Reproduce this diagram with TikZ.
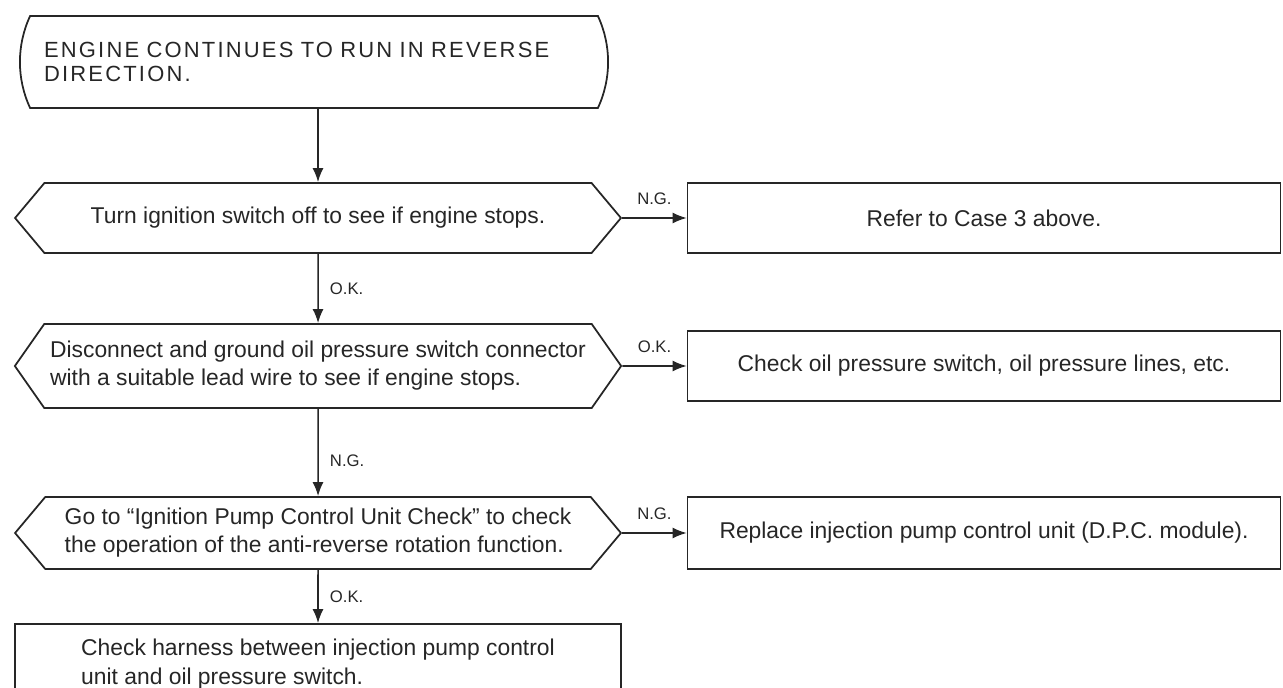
\documentclass[tikz,border=0pt]{standalone}
\usepackage{fontspec}
\setmainfont{Liberation Sans}
\newfontfamily\capsfont[LetterSpace=10]{Liberation Sans}
\usetikzlibrary{arrows.meta,shapes.symbols,shapes.misc}
\tikzset{
  startbox/.style = {draw, rounded rectangle, rounded rectangle arc length=50,
                     line width=1pt, minimum width=12cm, minimum height=1.84cm,
                     text width=10.8cm, align=left, font=\capsfont\fontsize{12.5}{13.5}\selectfont},
  checkbox/.style = {draw, signal, signal to=west and east, signal pointer angle=100,
                     line width=1pt, minimum width=12.12cm, minimum height=1.4cm,
                     align=left, font=\fontsize{13}{16}\selectfont},
  actbox/.style   = {draw, rectangle, line width=1pt, minimum width=11.86cm,
                     minimum height=1.4cm, font=\fontsize{13}{16}\selectfont},
  endbox/.style   = {draw, rectangle, line width=1pt, minimum width=12.12cm,
                     minimum height=1.6cm, align=left, font=\fontsize{13}{16.5}\selectfont},
  flowar/.style   = {-{Latex[length=2.8mm,width=2.2mm]}, line width=0.9pt},
  tag/.style      = {font=\fontsize{9.5}{11}\selectfont}
}
\begin{document}
\begin{tikzpicture}[x=0.02cm,y=-0.02cm,black!85]
  \useasboundingbox (0,0) rectangle (1283,688);
  \clip (0,0) rectangle (1283,688);
  \node[startbox] (start) at (314,62)  {ENGINE CONTINUES TO RUN IN REVERSE\\DIRECTION.};
  \node[checkbox] (ign)   at (318,218) {Turn ignition switch off to see if engine stops.};
  \node[actbox]   (case)  at (984,218) {Refer to Case 3 above.};
  \node[checkbox, minimum height=1.68cm, signal pointer angle=110] (oil) at (318,366)
    {Disconnect and ground oil pressure switch connector\\with a suitable lead wire to see if engine stops.};
  \node[actbox]   (oilsw) at (984,366) {Check oil pressure switch, oil pressure lines, etc.};
  \node[checkbox, minimum height=1.44cm] (pump) at (318,533)
    {Go to ``Ignition Pump Control Unit Check'' to check\\the operation of the anti-reverse rotation function.};
  \node[actbox, minimum height=1.44cm] (dpc) at (984,533)
    {Replace injection pump control unit (D.P.C. module).};
  \node[endbox]   (harn)  at (318,664)
    {Check harness between injection pump control\\unit and oil pressure switch.};
  \draw[flowar] (start.south -| ign.north) -- (ign.north);
  \draw[flowar] (ign) -- (oil) node[midway,right=3pt,tag]{O.K.};
  \draw[flowar] (oil) -- (pump) node[pos=0.6,right=3pt,tag]{N.G.};
  \draw[flowar] (pump) -- (harn) node[midway,right=3pt,tag]{O.K.};
  \draw[flowar] (ign) -- (case) node[midway,above=4pt,tag]{N.G.};
  \draw[flowar] (oil) -- (oilsw) node[midway,above=4pt,tag]{O.K.};
  \draw[flowar] (pump) -- (dpc) node[midway,above=4pt,tag]{N.G.};
\end{tikzpicture}
\end{document}
